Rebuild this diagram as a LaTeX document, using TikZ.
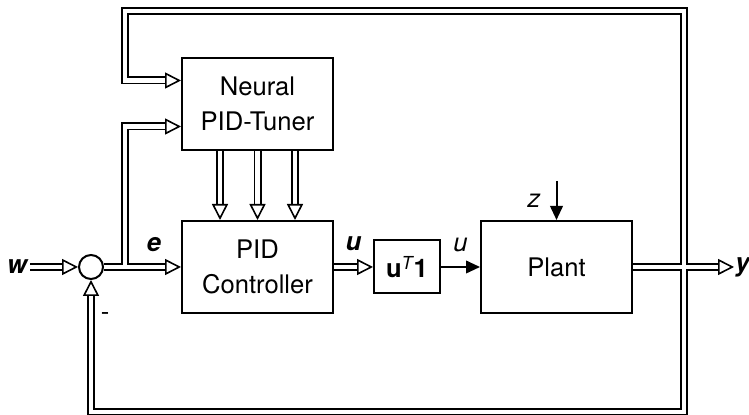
\documentclass[tikz,border=0pt]{standalone}
\usepackage{fontspec}
\setmainfont{TeX Gyre Heros}
\usepackage{tikz}
\usetikzlibrary{arrows.meta,positioning}
\tikzset{
  block/.style={draw,line width=1pt,minimum width=75.5pt,minimum height=46pt,
    align=center,inner sep=1pt,font=\fontsize{12.8}{17.5}\selectfont},
  gainbox/.style={draw,line width=1pt,minimum width=33pt,minimum height=26.5pt,
    inner sep=1pt,font=\fontsize{12.8}{15}\selectfont},
  sumnode/.style={circle,draw,line width=1pt,minimum size=12pt,inner sep=0pt},
  dbl/.style={double,double distance=2.4pt,line width=0.8pt,
    -{Triangle[open,length=8pt,width=8pt]}},
  sig/.style={line width=1pt,-{Triangle[length=7pt,width=6.3pt]}},
  lbl/.style={inner sep=0.5pt,font=\fontsize{12.8}{15}\selectfont}
}

\begin{document}
\begin{tikzpicture}[x=0.5pt,y=-0.5pt]
  \useasboundingbox (0,0) rectangle (749,415);
  \node[block] (pid) at (257.5,267) {PID\\Controller};
  \node[block, above=34.5pt of pid] (tuner) {Neural\\PID-Tuner};
  \node[gainbox, right=19.5pt of pid] (gain) {\textbf{u}\textsuperscript{\itshape T}\textbf{1}};
  \node[block, right=19.5pt of gain] (plant) {Plant};
  \node[sumnode, left=38.5pt of pid] (sum) {};
  \node[lbl, left=24pt of sum] (w) {\textbf{\textit{w}}};
  \coordinate[right=25.5pt of plant] (ybranch);
  \node[lbl, right=25pt of ybranch] (y) {\textbf{\textit{y}}};
  \coordinate[above left=23pt and 28pt of tuner.north west] (tl);
  \coordinate[below=49pt of pid.south] (bot);
  \coordinate (ebr) at (tl |- pid.west);
  \coordinate[above=19.5pt of plant.north] (zin);
  % signal path
  \draw[dbl] (w) -- (sum);
  \draw[dbl] (sum) -- node[lbl, pos=0.65, above=6.5pt]{\textbf{\textit{e}}} (pid);
  \draw[dbl, shorten <=1.2pt] (ebr) |- ([yshift=-11.25pt]tuner.west);
  \foreach \dx in {-18.75,0,18.75}
    \draw[dbl] ([xshift=\dx pt]tuner.south) -- ([xshift=\dx pt]pid.north);
  \draw[dbl] (pid) -- node[lbl, above=7pt]{\textbf{\textit{u}}} (gain);
  \draw[sig] (gain) -- node[lbl, above=6.5pt]{\textit{u}} (plant);
  \draw[sig] (zin) -- node[lbl, left=7pt]{\textit{z}} (plant);
  \draw[dbl] (plant) -- (y);
  % feedback
  \draw[dbl, shorten <=1.2pt] (ybranch) |- (tl) |- ([yshift=11.75pt]tuner.west);
  \draw[dbl, shorten <=1.2pt] (ybranch) |- (sum |- bot)
    -- node[lbl, pos=0.72, right=4pt]{-} (sum);
\end{tikzpicture}
\end{document}
